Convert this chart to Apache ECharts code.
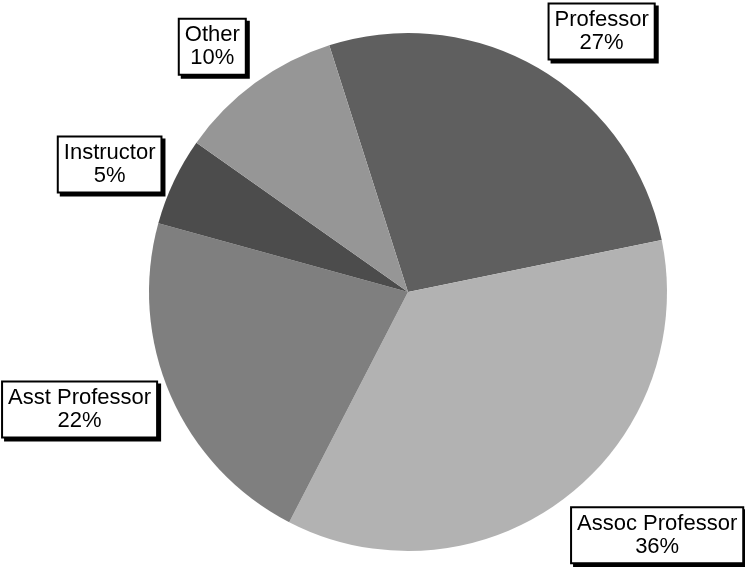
<!DOCTYPE html>
<html>
<head>
<meta charset="utf-8">
<title>Faculty by rank</title>
<script src="https://cdn.jsdelivr.net/npm/echarts@6/dist/echarts.min.js"></script>
<style>
  html, body { margin: 0; padding: 0; background: #fff; }
  #chart { width: 745px; height: 567px; }
</style>
</head>
<body>
<div id="chart"></div>
<script>
// slices, clockwise from the top-left edge of "Professor"
const ranks = ['Professor', 'Assoc Professor', 'Asst Professor', 'Instructor', 'Other']
const shares = [26.7, 35.8, 21.7, 5.5, 10.3]
const colors = ['#5f5f5f', '#b2b2b2', '#7f7f7f', '#4c4c4c', '#969696']
// label offsets (labelLine length / length2, line itself hidden)
const labelLen = [43, 46, 34, 39, 45]
const labelLen2 = [41, 65, 60, 29, 16]

const chart = echarts.init(document.getElementById('chart'))

chart.setOption({
  animation: false,
  backgroundColor: '#fff',
  series: [{
    type: 'pie',
    center: [408, 292],
    radius: 259,
    startAngle: 107.7,
    clockwise: true,
    avoidLabelOverlap: false,
    percentPrecision: 0,
    emphasis: { disabled: true },
    itemStyle: { borderWidth: 0 },
    label: {
      show: true,
      position: 'outside',
      distanceToLabelLine: 0,
      formatter: '{b}\n{d}%',
      fontFamily: 'Arial, "Liberation Sans", sans-serif',
      fontSize: 22,
      lineHeight: 23,
      color: '#000',
      backgroundColor: '#fff',
      borderColor: '#000',
      borderWidth: 2,
      padding: [4, 5, 4, 5],
      shadowColor: '#000',
      shadowBlur: 0,
      shadowOffsetX: 3,
      shadowOffsetY: 3
    },
    labelLayout: { align: 'center' },
    labelLine: { show: false },
    data: ranks.map((name, i) => ({
      name: name,
      value: shares[i],
      itemStyle: { color: colors[i] },
      labelLine: { show: false, length: labelLen[i], length2: labelLen2[i] }
    }))
  }]
})
</script>
</body>
</html>
